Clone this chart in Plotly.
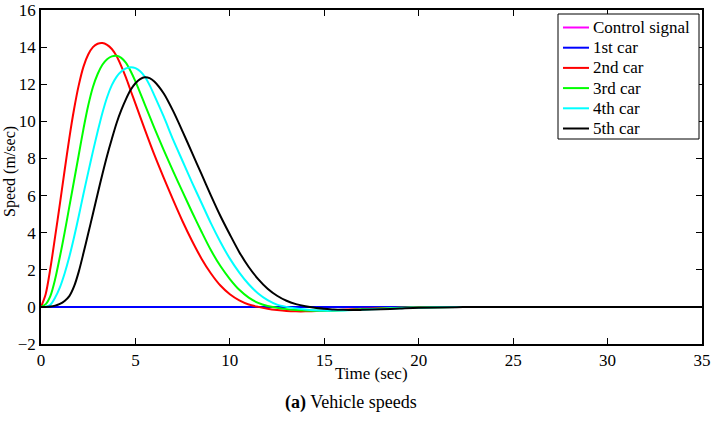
import plotly.graph_objects as go

# Speeds (m/sec) against time (sec)
t_flat = [0, 5, 10, 15, 20, 25, 30, 35]
v_control = [0, 0, 0, 0, 0, 0, 0, 0]
v_car1 = [0, 0, 0, 0, 0, 0, 0, 0]

t_car2 = [0, 0.25, 0.5, 0.75, 1.0, 1.25, 1.5, 1.75, 2.0, 2.25, 2.5, 2.75, 3.0, 3.25,
          3.5, 3.75, 4.0, 4.25, 4.5, 4.75, 5.0, 5.5, 6.0, 6.5, 7.0, 7.5, 8.0, 8.5,
          9.0, 9.5, 10.0, 10.5, 11.0, 11.5, 12.0, 12.5, 13.0, 13.5, 14.0, 15.0, 16.0,
          17.0, 18.0, 19.0, 20.0, 22.0, 35.0]
v_car2 = [0, 0.7, 2.1, 3.8, 5.55, 7.35, 9.1, 10.65, 11.95, 12.95, 13.6, 14.0, 14.18, 14.22,
          14.12, 13.9, 13.52, 12.98, 12.35, 11.65, 10.95, 9.55, 8.2, 6.95, 5.75, 4.6, 3.55, 2.6,
          1.8, 1.15, 0.68, 0.35, 0.13, 0.0, -0.1, -0.17, -0.22, -0.24, -0.24, -0.2, -0.15,
          -0.1, -0.07, -0.04, -0.02, 0, 0]

t_car3 = [0, 0.25, 0.5, 0.75, 1.0, 1.25, 1.5, 1.75, 2.0, 2.25, 2.5, 2.75, 3.0, 3.25,
          3.5, 3.75, 4.0, 4.25, 4.5, 4.75, 5.0, 5.5, 6.0, 6.5, 7.0, 7.5, 8.0, 8.5,
          9.0, 9.5, 10.0, 10.5, 11.0, 11.5, 12.0, 12.5, 13.0, 13.5, 14.0, 15.0, 16.0,
          17.0, 18.0, 19.0, 20.0, 22.0, 23.0, 35.0]
v_car3 = [0, 0.15, 0.6, 1.5, 2.7, 4.0, 5.4, 6.8, 8.2, 9.6, 10.85, 11.85, 12.55, 13.05,
          13.35, 13.5, 13.53, 13.42, 13.15, 12.7, 12.15, 10.9, 9.65, 8.45, 7.3, 6.2, 5.1, 4.05,
          3.05, 2.2, 1.5, 0.92, 0.5, 0.22, 0.05, -0.05, -0.12, -0.17, -0.2, -0.21, -0.18,
          -0.13, -0.09, -0.05, -0.03, -0.01, 0, 0]

t_car4 = [0, 0.25, 0.5, 0.75, 1.0, 1.25, 1.5, 1.75, 2.0, 2.25, 2.5, 2.75, 3.0, 3.25,
          3.5, 3.75, 4.0, 4.25, 4.5, 4.75, 5.0, 5.25, 5.5, 5.75, 6.0, 6.5, 7.0, 7.5,
          8.0, 8.5, 9.0, 9.5, 10.0, 10.5, 11.0, 11.5, 12.0, 12.5, 13.0, 13.5, 14.0,
          14.5, 15.0, 15.5, 16.0, 17.0, 18.0, 19.0, 20.0, 22.0, 23.0, 35.0]
v_car4 = [0, 0.01, 0.12, 0.5, 1.05, 1.8, 2.7, 3.75, 4.9, 6.1, 7.25, 8.38, 9.45, 10.45,
          11.3, 11.95, 12.4, 12.68, 12.85, 12.92, 12.87, 12.7, 12.4, 11.95, 11.4, 10.25, 9.0, 7.85,
          6.7, 5.6, 4.5, 3.5, 2.6, 1.85, 1.22, 0.72, 0.36, 0.12, 0.0, -0.08, -0.14,
          -0.18, -0.2, -0.2, -0.19, -0.15, -0.11, -0.07, -0.04, -0.01, 0, 0]

t_car5 = [0, 0.25, 0.5, 0.75, 1.0, 1.25, 1.5, 1.75, 2.0, 2.25, 2.5, 2.75, 3.0, 3.25,
          3.5, 3.75, 4.0, 4.25, 4.5, 4.75, 5.0, 5.25, 5.5, 5.75, 6.0, 6.5, 7.0,
          7.5, 8.0, 8.5, 9.0, 9.5, 10.0, 10.5, 11.0, 11.5, 12.0, 12.5, 13.0, 13.5,
          14.0, 14.5, 15.0, 15.5, 16.0, 16.5, 17.0, 18.0, 19.0, 20.0, 22.0, 23.0, 35.0]
v_car5 = [0, 0.0, 0.02, 0.07, 0.16, 0.32, 0.58, 1.1, 1.9, 2.9, 3.95, 5.02, 6.1, 7.15,
          8.15, 9.05, 9.9, 10.6, 11.2, 11.7, 12.05, 12.28, 12.38, 12.33, 12.15, 11.5, 10.55,
          9.45, 8.3, 7.15, 6.0, 4.9, 3.9, 2.95, 2.15, 1.5, 0.98, 0.6, 0.33, 0.15,
          0.03, -0.05, -0.1, -0.14, -0.16, -0.17, -0.16, -0.13, -0.09, -0.05, -0.02, 0, 0]

x_ticks = [0, 5, 10, 15, 20, 25, 30, 35]
y_ticks = [-2, 0, 2, 4, 6, 8, 10, 12, 14, 16]

FONT = "Liberation Serif, 'Times New Roman', serif"

series = [
    ("Control signal", t_flat, v_control, "#ff00ff"),
    ("1st car", t_flat, v_car1, "#0000ff"),
    ("2nd car", t_car2, v_car2, "#ff0000"),
    ("3rd car", t_car3, v_car3, "#00ff00"),
    ("4th car", t_car4, v_car4, "#00ffff"),
    ("5th car", t_car5, v_car5, "#000000"),
]

# figure geometry (pixels)
W, H = 711, 422
ML, MR, MT, MB = 41, 9, 10, 78
PW, PH = W - ML - MR, H - MT - MB


def px(xpix):
    return (xpix - ML) / PW


def py(ypix):
    return (H - MB - ypix) / PH


fig = go.Figure()
for name, tx, vy, col in series:
    fig.add_trace(go.Scatter(
        x=tx, y=vy, mode="lines", name=name, showlegend=False,
        line=dict(color=col, width=2, shape="spline", smoothing=0.8),
    ))

axis_common = dict(
    showgrid=False, zeroline=False, showline=True, linecolor="black", linewidth=1.5,
    mirror="ticks", ticks="inside", ticklen=6, tickcolor="black", tickwidth=1,
    tickfont=dict(family=FONT, size=17, color="black"), automargin=False,
)

# legend box drawn in the style of the original (compact rows)
shapes = [dict(type="rect", xref="paper", yref="paper",
               x0=px(558), x1=px(699), y0=py(14), y1=py(139),
               line=dict(color="black", width=1), fillcolor="white", layer="above")]
annotations = []
for i, (name, _, _, col) in enumerate(series):
    yc = 27.5 + 20.2 * i
    shapes.append(dict(type="line", xref="paper", yref="paper",
                       x0=px(563), x1=px(589), y0=py(yc), y1=py(yc),
                       line=dict(color=col, width=2), layer="above"))
    annotations.append(dict(text=name, xref="paper", yref="paper", x=px(591), y=py(yc),
                            xanchor="left", yanchor="middle", showarrow=False,
                            font=dict(family=FONT, size=17, color="black")))

annotations += [
    dict(text="Time (sec)", xref="paper", yref="paper", x=px(371), y=py(373),
         showarrow=False, xanchor="center", yanchor="middle",
         font=dict(family=FONT, size=17, color="black")),
    dict(text="Speed (m/sec)", xref="paper", yref="paper", x=px(10), y=py(172),
         showarrow=False, xanchor="center", yanchor="middle", textangle=-90,
         font=dict(family=FONT, size=16, color="black")),
    dict(text="<b>(a)</b> Vehicle speeds", xref="paper", yref="paper", x=px(351),
         y=py(403), showarrow=False, xanchor="center", yanchor="middle",
         font=dict(family=FONT, size=18, color="black")),
]

fig.update_layout(
    width=W, height=H,
    margin=dict(l=ML, r=MR, t=MT, b=MB),
    paper_bgcolor="white", plot_bgcolor="white",
    font=dict(family=FONT, size=17, color="black"),
    xaxis=dict(range=[0, 35], tickvals=x_ticks, **axis_common),
    yaxis=dict(range=[-2, 16], tickvals=y_ticks, **axis_common),
    showlegend=False,
    shapes=shapes,
    annotations=annotations,
)

fig.write_html("out.html")
